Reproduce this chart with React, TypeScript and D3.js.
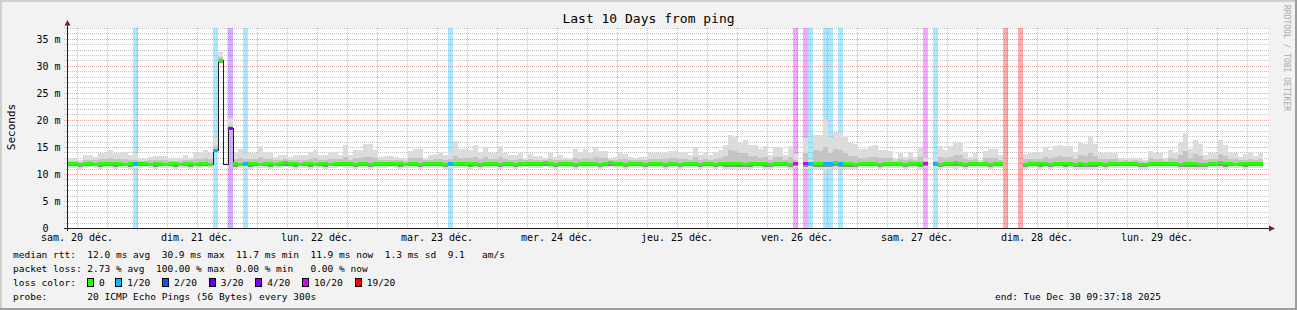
import React from "react";
import * as d3 from "d3";

const W = 1297;
const H = 310;
const titleText = "Last 10 Days from ping";
const yAxisTitle = "Seconds";
const watermark = "RRDTOOL / TOBI OETIKER";

const yTicks = [0, 5, 10, 15, 20, 25, 30, 35];
const yTickLabels = ["0  ", "5 m", "10 m", "15 m", "20 m", "25 m", "30 m", "35 m"];
const dayLabels = [
  "sam. 20 déc.", "dim. 21 déc.", "lun. 22 déc.", "mar. 23 déc.", "mer. 24 déc.",
  "jeu. 25 déc.", "ven. 26 déc.", "sam. 27 déc.", "dim. 28 déc.", "lun. 29 déc.",
];

// hourly consolidated values (ms), blocks starting Dec 20 10:00 UTC
const N = null;
const med = [
  11.9, 11.9, 11.8, 11.9, 11.9, 11.8, 11.9, 12.0, 11.9, 11.9,
  11.9, 11.8, 11.9, 11.9, 11.9, 11.9, 11.8, 11.9, 11.9, 11.8,
  11.9, 11.9, 11.8, 11.9, 11.9, 11.8, 11.9, 11.9, 11.8, 14.4,
  30.9, 11.8, 18.4, 11.9, 11.8, 11.9, 11.9, 11.9, 11.8, 11.9,
  11.9, 11.8, 12.0, 12.1, 11.9, 11.9, 11.8, 11.9, 11.9, 11.8,
  11.9, 11.9, 11.8, 11.9, 12.0, 11.9, 11.9, 11.8, 11.9, 11.9,
  11.8, 11.9, 11.9, 11.9, 12.0, 11.9, 11.9, 11.8, 11.9, 11.9,
  11.8, 11.9, 11.9, 11.9, 11.9, 11.8, 11.9, 11.9, 11.9, 11.9,
  11.9, 11.9, 11.8, 11.9, 11.9, 11.9, 11.8, 11.9, 11.9, 11.8,
  11.9, 12.0, 11.9, 11.9, 11.9, 12.1, 11.9, 11.8, 11.9, 11.9,
  11.9, 11.8, 11.9, 11.9, 11.9, 11.9, 11.8, 11.9, 12.1, 11.9,
  11.9, 11.8, 11.9, 11.9, 11.9, 11.8, 11.9, 11.9, 11.9, 11.8,
  11.9, 11.9, 11.8, 11.9, 11.9, 11.9, 11.8, 11.9, 11.9, 11.8,
  11.9, 11.9, 11.9, 11.9, 11.9, 11.8, 12.0, 11.9, 11.9, 11.9,
  11.8, 11.9, 11.9, 11.9, 11.8, 11.9, N, 11.9, 11.9, 11.9,
  11.9, 11.9, 11.9, 12.2, 11.9, 11.9, 11.9, 11.8, 11.9, 11.9,
  11.9, 11.9, 11.8, 11.9, 11.9, 11.9, 11.9, 11.8, 11.9, 11.9,
  11.9, 11.9, N, 11.9, 11.8, 11.9, 12.0, 12.1, 11.9, 11.8,
  11.9, 11.9, 11.9, 11.9, 11.8, 11.9, 11.9, N, N, N,
  N, 11.8, 11.9, 11.9, 11.9, 11.9, 11.8, 11.9, 11.9, 11.9,
  11.9, 11.8, 11.9, 11.7, 11.9, 11.9, 11.9, 11.8, 11.9, 11.9,
  11.9, 11.9, 11.9, 11.9, 11.8, 11.7, 11.9, 11.9, 12.0, 11.9,
  11.9, 11.9, 11.8, 11.9, 11.9, 11.9, 11.8, 11.7, 11.9, 11.9,
  12.1, 11.9, 11.9, 11.8, 11.9, 11.9, 11.9, 11.9, 11.9,
];
const smokeMax = [
  12.9, 12.9, 12.6, 13.5, 13.5, 13.2, 13.8, 13.8, 14.4, 13.8,
  13.8, 14.0, 13.5, 13.8, 12.9, 12.9, 13.2, 13.4, 13.4, 13.4,
  12.9, 12.9, 12.9, 13.5, 13.0, 14.1, 14.1, 14.4, 13.8, 16.9,
  32.5, N, 20.3, 14.1, 14.7, 13.8, 13.8, 13.8, 15.1, 14.1,
  14.1, 13.2, 13.5, 13.5, 13.2, 13.5, 13.5, 13.5, 14.1, 14.4,
  13.5, 13.5, 14.1, 14.1, 13.5, 15.4, 13.5, 14.4, 14.4, 15.6,
  15.6, 14.4, 13.2, 13.3, 13.3, 13.2, 13.0, 13.0, 14.3, 14.6,
  14.6, 13.0, 13.5, 13.7, 14.1, 13.5, 14.1, 16.1, 14.7, 14.6,
  14.4, 15.4, 13.8, 15.0, 13.8, 13.8, 15.1, 13.8, 13.5, 13.5,
  13.8, 12.9, 13.7, 13.3, 13.3, 12.9, 13.8, 13.2, 13.5, 13.0,
  13.0, 14.7, 14.1, 14.7, 13.8, 15.0, 14.3, 14.3, 12.9, 13.2,
  14.1, 13.7, 13.2, 13.0, 13.2, 13.2, 13.8, 13.8, 13.8, 13.8,
  14.3, 14.3, 14.1, 14.1, 13.5, 14.9, 13.5, 13.8, 13.5, 14.1,
  14.4, 15.4, 17.2, 16.9, 16.0, 16.3, 15.4, 15.4, 14.7, 15.1,
  13.5, 14.9, 14.9, 13.5, 15.2, 13.6, N, 16.6, 12.5, 17.2,
  17.2, 20.0, 16.6, 17.8, 17.8, 16.8, 15.7, 15.5, 14.7, 14.7,
  15.1, 15.3, 14.4, 14.4, 14.3, 12.9, 13.8, 13.2, 14.1, 13.2,
  14.9, 12.9, N, 12.9, 15.1, 14.4, 15.1, 15.9, 15.9, 14.1,
  13.2, 13.8, 12.6, 14.3, 14.7, 14.7, 13.5, N, N, N,
  N, 13.6, 13.8, 14.1, 14.1, 14.9, 14.4, 15.1, 15.4, 15.1,
  15.1, 14.1, 15.9, 15.5, 16.8, 15.5, 13.8, 13.8, 14.1, 13.8,
  12.9, 13.0, 12.9, 13.0, 12.9, 12.6, 14.3, 13.8, 13.8, 12.9,
  14.4, 13.8, 15.9, 17.6, 14.7, 16.3, 15.5, 13.5, 13.8, 13.8,
  16.3, 15.4, 14.1, 13.8, 13.2, 13.7, 14.1, 13.4, 13.8,
];
const smokeHi = [
  12.4, 12.4, 12.3, 12.6, 12.6, 12.5, 12.7, 12.7, 12.9, 12.7,
  12.7, 12.8, 12.6, 12.5, 12.4, 12.4, 12.5, 12.6, 12.6, 12.6,
  12.4, 12.4, 12.4, 12.6, 12.5, 12.8, 12.8, 12.9, 12.7, 15.2,
  31.6, N, 19.0, 12.8, 13.0, 12.7, 12.7, 12.7, 13.1, 12.8,
  12.8, 12.5, 12.6, 12.7, 12.5, 12.6, 12.6, 12.6, 12.8, 12.9,
  12.6, 12.6, 12.8, 12.8, 12.7, 13.1, 12.6, 12.9, 12.9, 13.2,
  13.2, 12.9, 12.5, 12.5, 12.6, 12.5, 12.5, 12.4, 12.9, 13.0,
  12.9, 12.5, 12.6, 12.7, 12.8, 12.6, 12.8, 13.4, 13.0, 13.0,
  12.9, 13.1, 12.7, 13.1, 12.7, 12.7, 13.1, 12.7, 12.6, 12.6,
  12.7, 12.5, 12.7, 12.6, 12.6, 12.6, 12.7, 12.5, 12.6, 12.5,
  12.5, 13.0, 12.8, 13.0, 12.7, 13.1, 12.9, 12.9, 12.6, 12.5,
  12.8, 12.7, 12.5, 12.5, 12.5, 12.5, 12.7, 12.7, 12.7, 12.7,
  12.9, 12.9, 12.8, 12.8, 12.6, 13.1, 12.6, 12.7, 12.6, 12.8,
  13.0, 13.4, 14.5, 14.3, 13.8, 13.9, 13.4, 13.3, 13.0, 13.2,
  12.6, 13.1, 13.1, 12.6, 13.2, 12.6, N, 13.8, 12.3, 14.4,
  14.2, 14.9, 13.9, 14.6, 14.5, 13.9, 13.4, 13.3, 13.0, 13.0,
  13.2, 13.2, 12.9, 12.9, 12.9, 12.4, 12.7, 12.5, 12.8, 12.5,
  13.1, 12.4, N, 12.4, 13.2, 12.9, 13.2, 13.5, 13.5, 12.8,
  12.5, 12.7, 12.3, 12.9, 13.0, 13.0, 12.6, N, N, N,
  N, 12.7, 12.7, 12.8, 12.8, 13.1, 12.9, 13.2, 13.3, 13.2,
  13.2, 12.8, 13.5, 13.3, 13.8, 13.3, 12.7, 12.7, 12.8, 12.7,
  12.4, 12.5, 12.4, 12.5, 12.4, 12.3, 12.9, 12.7, 12.7, 12.4,
  12.9, 12.7, 13.5, 14.2, 13.0, 13.6, 13.3, 12.6, 12.7, 12.7,
  13.6, 13.3, 12.8, 12.7, 12.5, 12.6, 12.8, 12.6, 12.7,
];
const smokeLo = [
  11.4, 11.4, 11.3, 11.4, 11.5, 11.4, 11.3, 11.4, 11.4, 11.3,
  11.4, 11.4, 11.3, 11.4, 11.4, 11.5, 11.4, 11.3, 11.4, 11.4,
  11.4, 11.3, 11.4, 11.4, 11.3, 11.4, 11.4, 11.5, 11.4, 14.3,
  30.6, N, 18.1, 11.3, 11.4, 11.4, 11.3, 11.4, 11.4, 11.4,
  11.3, 11.4, 11.4, 11.5, 11.4, 11.3, 11.4, 11.4, 11.3, 11.4,
  11.4, 11.3, 11.4, 11.4, 11.5, 11.4, 11.4, 11.3, 11.4, 11.4,
  11.3, 11.4, 11.4, 11.4, 11.5, 11.4, 11.3, 11.4, 11.4, 11.4,
  11.3, 11.4, 11.4, 11.4, 11.4, 11.3, 11.4, 11.4, 11.4, 11.4,
  11.3, 11.4, 11.3, 11.4, 11.4, 11.4, 11.3, 11.4, 11.4, 11.3,
  11.4, 11.5, 11.4, 11.4, 11.4, 11.5, 11.4, 11.3, 11.4, 11.4,
  11.4, 11.3, 11.4, 11.4, 11.4, 11.4, 11.3, 11.4, 11.5, 11.4,
  11.4, 11.3, 11.4, 11.4, 11.4, 11.3, 11.4, 11.4, 11.4, 11.3,
  11.4, 11.4, 11.3, 11.4, 11.4, 11.4, 11.3, 11.4, 11.4, 11.3,
  11.4, 11.3, 11.3, 11.3, 11.3, 11.2, 11.3, 11.4, 11.4, 11.3,
  11.3, 11.4, 11.4, 11.4, 11.3, 11.5, N, 11.3, 11.5, 11.3,
  11.3, 11.2, 11.3, 11.4, 11.3, 11.3, 11.3, 11.3, 11.4, 11.4,
  11.4, 11.4, 11.3, 11.4, 11.4, 11.4, 11.4, 11.3, 11.4, 11.4,
  11.3, 11.5, N, 11.5, 11.3, 11.4, 11.4, 11.4, 11.4, 11.3,
  11.4, 11.4, 11.4, 11.4, 11.3, 11.4, 11.4, N, N, N,
  N, 11.3, 11.4, 11.4, 11.3, 11.4, 11.3, 11.4, 11.4, 11.3,
  11.4, 11.3, 11.3, 11.2, 11.3, 11.3, 11.4, 11.3, 11.4, 11.4,
  11.4, 11.4, 11.4, 11.4, 11.3, 11.2, 11.4, 11.4, 11.4, 11.4,
  11.4, 11.4, 11.3, 11.3, 11.3, 11.3, 11.3, 11.2, 11.4, 11.4,
  11.4, 11.3, 11.4, 11.4, 11.4, 11.3, 11.4, 11.4, 11.4,
];
const smokeMin = [
  11.1, 11.1, 11.0, 11.1, 11.2, 11.1, 11.0, 11.1, 11.1, 11.0,
  11.1, 11.1, 11.0, 11.1, 11.1, 11.2, 11.1, 11.0, 11.1, 11.1,
  11.1, 11.0, 11.1, 11.1, 11.0, 11.1, 11.1, 11.2, 11.1, 14.2,
  30.5, N, 18.0, 11.0, 11.1, 11.1, 11.0, 11.1, 11.1, 11.1,
  11.0, 11.1, 11.1, 11.2, 11.1, 11.0, 11.1, 11.1, 11.0, 11.1,
  11.1, 11.0, 11.1, 11.1, 11.2, 11.1, 11.1, 11.0, 11.1, 11.1,
  11.0, 11.1, 11.1, 11.1, 11.2, 11.1, 11.0, 11.1, 11.1, 11.1,
  11.0, 11.1, 11.1, 11.1, 11.1, 11.0, 11.1, 11.1, 11.1, 11.1,
  11.0, 11.1, 11.0, 11.1, 11.1, 11.1, 11.0, 11.1, 11.1, 11.0,
  11.1, 11.2, 11.1, 11.1, 11.1, 11.2, 11.1, 11.0, 11.1, 11.1,
  11.1, 11.0, 11.1, 11.1, 11.1, 11.1, 11.0, 11.1, 11.2, 11.1,
  11.1, 11.0, 11.1, 11.1, 11.1, 11.0, 11.1, 11.1, 11.1, 11.0,
  11.1, 11.1, 11.0, 11.1, 11.1, 11.1, 11.0, 11.1, 11.1, 11.0,
  11.1, 11.0, 10.9, 11.0, 11.0, 10.9, 11.0, 11.1, 11.1, 11.0,
  11.0, 11.1, 11.1, 11.1, 11.0, 11.2, N, 11.0, 11.2, 10.9,
  10.9, 10.8, 11.0, 11.0, 11.0, 10.9, 11.0, 11.0, 11.1, 11.1,
  11.1, 11.1, 11.0, 11.1, 11.1, 11.1, 11.1, 11.0, 11.1, 11.1,
  11.0, 11.2, N, 11.2, 11.0, 11.1, 11.1, 11.0, 11.1, 11.0,
  11.1, 11.1, 11.1, 11.1, 11.0, 11.1, 11.1, N, N, N,
  N, 11.0, 11.1, 11.1, 11.0, 11.1, 11.0, 11.1, 11.1, 11.0,
  11.1, 11.0, 11.0, 10.8, 11.0, 11.0, 11.1, 11.0, 11.1, 11.1,
  11.1, 11.1, 11.1, 11.1, 11.0, 10.9, 11.1, 11.1, 11.1, 11.1,
  11.1, 11.1, 11.0, 10.9, 11.0, 11.0, 11.0, 10.9, 11.1, 11.1,
  11.1, 11.0, 11.1, 11.1, 11.1, 11.0, 11.1, 11.1, 11.1,
];

// packet loss per block (pings lost out of 20); all other blocks lost 0
const lossBlocks = [13, 29, 32, 35, 76, 145, 147, 148, 151, 152, 154, 171, 173, 187, 190];
const lossCounts = [1, 1, 4, 1, 1, 10, 10, 1, 1, 1, 1, 10, 1, 20, 20];
const lossUnknownBlocks = [31];

const lossBins = [0, 1, 2, 3, 4, 10, 19];
const lossColors = ["#26ff00", "#00b8ff", "#0059ff", "#5e00ff", "#7e00ff", "#dd00ff", "#ff0000"];
const lossLabels = ["0", "1/20", "2/20", "3/20", "4/20", "10/20", "19/20"];
const lossLabelX = [99, 127.3, 174, 220.7, 267.3, 314, 366.7];

const legendRtt = "median rtt:  12.0 ms avg  30.9 ms max  11.7 ms min  11.9 ms now  1.3 ms sd  9.1   am/s";
const legendLoss = "packet loss: 2.73 % avg  100.00 % max  0.00 % min   0.00 % now";
const legendColorTitle = "loss color:";
const legendProbe = "probe:       20 ICMP Echo Pings (56 Bytes) every 300s";
const legendEnd = "end: Tue Dec 30 09:37:18 2025";

const HOUR = 3600000;
const T0 = Date.UTC(2025, 11, 20, 10);
const T1 = T0 + 240 * HOUR;

const MONO = "'DejaVu Sans Mono', monospace";

function lossColorIndex(c: number) {
  let idx = 0;
  for (let i = 0; i < lossBins.length; i++) if (c >= lossBins[i]) idx = i;
  return idx;
}

export default function App() {
  const x = d3.scaleUtc().domain([new Date(T0), new Date(T1)]).range([67, 1267]);
  const y = d3.scaleLinear().domain([0, 37]).range([228, 28]);
  const bx = (k: number) => x(new Date(T0 + k * HOUR)) + 1;

  const plotL = 67, plotR = 1267, plotT = 28, plotB = 228;

  const lossMap = new Map<number, number>();
  lossBlocks.forEach((b, i) => lossMap.set(b, lossCounts[i]));

  const minorY = d3.range(1, 38).filter((v) => v % 5 !== 0);
  const majorY = yTicks.filter((v) => v > 0);
  const sixHours = d3.utcHour.every(6)!.range(new Date(T0), new Date(T1));
  const minorX = sixHours.filter((d) => d.getUTCHours() !== 0);
  const majorX = d3.utcDay.range(new Date(T0), new Date(T1));
  const labelDays = d3.utcDay
    .range(new Date(Date.UTC(2025, 11, 20)), new Date(Date.UTC(2025, 11, 30)))
    .map((d) => d3.utcHour.offset(d, 12));

  const cy = (v: number) => Math.round(y(v)) + 0.5;
  const cx = (d: Date) => Math.round(x(d)) + 0.5;

  type P = { x: number; v: number | null };
  const pts: P[] = [];
  med.forEach((v, k) => {
    pts.push({ x: bx(k), v });
    pts.push({ x: bx(k + 1), v });
  });
  const line = d3
    .line<P>()
    .defined((d) => d.v !== null)
    .x((d) => d.x)
    .y((d) => y(d.v as number));

  const half = 1.5 * (37 / 200);

  return (
    <svg
      width={W}
      height={H}
      viewBox={`0 0 ${W} ${H}`}
      style={{ position: "absolute", left: 0, top: 0, display: "block" }}
    >
      <rect x={0} y={0} width={W} height={H} fill="#f2f2f2" />
      <rect x={0} y={0} width={W} height={2} fill="#cfcfcf" />
      <rect x={0} y={0} width={2} height={H} fill="#cfcfcf" />
      <rect x={0} y={H - 2} width={W} height={2} fill="#9e9e9e" />
      <rect x={W - 2} y={0} width={2} height={H} fill="#9e9e9e" />

      <rect x={plotL} y={plotT} width={plotR - plotL + 1} height={plotB - plotT} fill="#ffffff" />

      {/* grid */}
      <g shapeRendering="crispEdges" strokeWidth={1} strokeDasharray="1,1">
        {minorY.map((v) => (
          <line key={"my" + v} x1={64} x2={1270} y1={cy(v)} y2={cy(v)} stroke="#c4c4c4" />
        ))}
        {minorX.map((d, i) => (
          <line key={"mx" + i} x1={cx(d)} x2={cx(d)} y1={plotT} y2={plotB + 2} stroke="#c4c4c4" />
        ))}
        {majorY.map((v) => (
          <line key={"My" + v} x1={64} x2={1270} y1={cy(v)} y2={cy(v)} stroke="#e9a3a3" />
        ))}
        {majorX.map((d, i) => (
          <line key={"Mx" + i} x1={cx(d)} x2={cx(d)} y1={plotT} y2={plotB + 3} stroke="#e9a3a3" />
        ))}
      </g>

      {/* loss bars */}
      <g shapeRendering="crispEdges">
        {lossBlocks.map((b, i) => (
          <rect
            key={"lb" + b}
            x={bx(b)}
            y={plotT}
            width={bx(b + 1) - bx(b)}
            height={plotB - plotT}
            fill={lossColors[lossColorIndex(lossCounts[i])]}
            fillOpacity={0.33}
          />
        ))}
      </g>

      {/* smoke */}
      <g shapeRendering="crispEdges">
        {smokeMax.map((mx, k) => {
          const mn = smokeMin[k];
          const hi = smokeHi[k];
          const lo = smokeLo[k];
          const m = med[k];
          if (mx === null || mn === null) return null;
          const x0 = bx(k), w = bx(k + 1) - bx(k);
          return (
            <g key={"s" + k}>
              <rect x={x0} y={y(mx)} width={w} height={y(mn) - y(mx)} fill="#dcdcdc" />
              {hi !== null && lo !== null && (
                <rect x={x0} y={y(hi)} width={w} height={y(lo) - y(hi)} fill="#c4c4c4" />
              )}
              {lo !== null && m !== null && (
                <rect x={x0} y={y(m)} width={w} height={y(lo) - y(m)} fill="#8e8e8e" />
              )}
            </g>
          );
        })}
      </g>

      {/* median dark line */}
      <path d={line(pts) || ""} fill="none" stroke="#202020" strokeWidth={1} shapeRendering="crispEdges" />

      {/* median colored markers */}
      <g shapeRendering="crispEdges">
        {med.map((m, k) => {
          if (m === null || lossUnknownBlocks.includes(k)) return null;
          const c = lossMap.get(k) ?? 0;
          return (
            <rect
              key={"m" + k}
              x={bx(k)}
              y={y(m + half)}
              width={bx(k + 1) - bx(k)}
              height={y(m - half) - y(m + half)}
              fill={lossColors[lossColorIndex(c)]}
            />
          );
        })}
      </g>

      {/* axes */}
      <g shapeRendering="crispEdges">
        <line x1={67.5} x2={67.5} y1={24} y2={231} stroke="#1f1f1f" />
        <line x1={64} x2={1270} y1={228.5} y2={228.5} stroke="#1f1f1f" />
      </g>
      <path d="M64.5,25.5 L70.5,25.5 L67.5,20 Z" fill="#801f1f" />
      <path d="M1269,225.5 L1269,231.5 L1275,228.5 Z" fill="#801f1f" />

      {/* tick labels */}
      <g fontFamily={MONO} fontSize={10} fill="#000">
        {yTicks.map((v, i) => (
          <text key={"yt" + v} x={60.5} y={cy(v) + 3.5} textAnchor="end" xmlSpace="preserve">
            {yTickLabels[i]}
          </text>
        ))}
        {labelDays.map((d, i) => (
          <text key={"xl" + i} x={x(d)} y={240.5} textAnchor="middle">
            {dayLabels[i]}
          </text>
        ))}
      </g>

      <text x={648.5} y={23} textAnchor="middle" fontFamily={MONO} fontSize={13} fill="#000">
        {titleText}
      </text>

      <text
        transform="translate(15,127) rotate(-90)"
        textAnchor="middle"
        fontFamily={MONO}
        fontSize={11}
        fill="#000"
      >
        {yAxisTitle}
      </text>

      <text transform="translate(1284,5) rotate(90)" fontFamily={MONO} fontSize={8} fill="#aaaaaa">
        {watermark}
      </text>

      {/* legend */}
      <g fontFamily={MONO} fontSize={9.5} fill="#000">
        <text x={13} y={257.5} xmlSpace="preserve">{legendRtt}</text>
        <text x={13} y={271.8} xmlSpace="preserve">{legendLoss}</text>
        <text x={13} y={286} xmlSpace="preserve">{legendColorTitle}</text>
        {lossLabels.map((l, i) => (
          <g key={"lg" + i}>
            <rect
              x={lossLabelX[i] - 11.5}
              y={278.5}
              width={6}
              height={8}
              fill={lossColors[i]}
              stroke="#000"
              strokeWidth={1}
              shapeRendering="crispEdges"
            />
            <text x={lossLabelX[i]} y={286}>{l}</text>
          </g>
        ))}
        <text x={13} y={300.3} xmlSpace="preserve">{legendProbe}</text>
        <text x={995} y={300.3} xmlSpace="preserve">{legendEnd}</text>
      </g>
    </svg>
  );
}
